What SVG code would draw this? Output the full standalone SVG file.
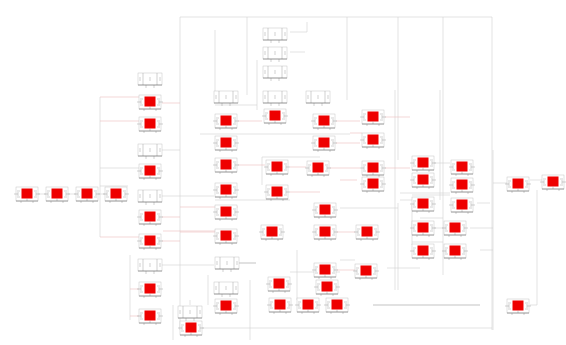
<svg xmlns="http://www.w3.org/2000/svg" xmlns:xlink="http://www.w3.org/1999/xlink" width="566" height="345" viewBox="0 0 566 345">
<style>
.f{fill:#fff;stroke:#c4c4c4;stroke-width:.5}
.r{fill:#ee0000}
.t{stroke:#888;stroke-width:.4;fill:none}
.b{stroke:#555;stroke-width:.5}
.c{fill:none;stroke:#d2d2d2;stroke-width:.6}
.p{fill:none;stroke:#ecbcbc;stroke-width:.6}
.d{fill:none;stroke:#aaa;stroke-width:.7}
</style>
<defs>
<g id="R">
<rect class="f" x="-11" y="-7" width="22" height="14"/>
<rect class="r" x="-5.5" y="-5.5" width="11" height="10"/>
<path class="t" d="M-9,-4V4M9,-4V4M-13,0H-9M9,0H13M-8,-3h1M7,-3h1M-8,3h1M7,3h1M0,4.5V7M-6,7v2M6,7v2"/>
<path class="b" d="M-11,7H11"/>
</g>
<g id="W">
<rect class="f" x="-12" y="-6" width="24" height="12"/>
<path class="t" d="M-7,-6V6M7,-6V6M-10,-2V2M10,-2V2M0,-2V2M-4,6V9M4,6V9"/>
<path class="b" d="M-12,6H12"/>
</g>
</defs>
<rect width="566" height="345" fill="#fff"/>
<g id="connectors">
<path class="c" d="M180,17H492M180,17V330M247,17V95M347,17V100M398,17V160M443,17V275M492,17V330M180,328H492"/>
<path class="c" d="M100,97V237M100,168H139M100,186H128M35,194H46M65,194H76M95,194H105"/>
<path class="p" d="M100,97H139M100,121H139M100,237H139"/>
<path class="c" d="M130,255V320M162,150H180M162,196H214M162,265H214M208,275V305M173,305V340M190,305V300"/>
<path class="p" d="M130,289H139M130,316H139M162,103H180M163,231H217M162,217H180M162,241H180"/>
<path class="c" d="M215,30V100M215,105H257M257,60V110M200,134H350M262,157H320M262,157V185M215,200H290M297,250V300M290,272H340M250,280V340"/>
<path class="p" d="M180,207H238M180,232H215M238,121H262M238,165H265M290,167H306M290,192H320"/>
<path class="d" d="M238,263H256"/>
<path class="c" d="M290,32H307V22M290,52H305M395,90V290M440,90V200M412,205V245M420,218H443M412,242H443M412,195H450M387,268H420M398,203V290M340,260H355M340,208H398"/>
<path class="p" d="M350,133H362M340,180H357M336,121H360M336,143H360M330,168H360M385,117H410M385,168H410M337,232H355M337,270H355"/>
<path class="d" d="M373,305H480"/>
<path class="c" d="M493,150V330M493,183H507M477,203H490M530,180H545M537,190V305H530M470,228H493M480,250H493M400,193H450M400,200H412M434,163H450M434,228H443"/>
</g>
<g id="n1" transform="translate(27,194)"><use href="#R"/></g>
<g id="n2" transform="translate(57,194)"><use href="#R"/></g>
<g id="n3" transform="translate(87,194)"><use href="#R"/></g>
<g id="n4" transform="translate(116,194)"><use href="#R"/></g>
<g id="n5" transform="translate(150,79)"><use href="#W"/></g>
<g id="n6" transform="translate(150,102)"><use href="#R"/></g>
<g id="n7" transform="translate(150,124)"><use href="#R"/></g>
<g id="n8" transform="translate(150,150)"><use href="#W"/></g>
<g id="n9" transform="translate(150,171)"><use href="#R"/></g>
<g id="n10" transform="translate(150,196)"><use href="#W"/></g>
<g id="n11" transform="translate(150,217)"><use href="#R"/></g>
<g id="n12" transform="translate(150,241)"><use href="#R"/></g>
<g id="n13" transform="translate(150,265)"><use href="#W"/></g>
<g id="n14" transform="translate(150,289)"><use href="#R"/></g>
<g id="n15" transform="translate(150,316)"><use href="#R"/></g>
<g id="n16" transform="translate(190,312)"><use href="#W"/></g>
<g id="n17" transform="translate(191,328)"><use href="#R"/></g>
<g id="n18" transform="translate(226,97)"><use href="#W"/></g>
<g id="n19" transform="translate(226,121)"><use href="#R"/></g>
<g id="n20" transform="translate(226,143)"><use href="#R"/></g>
<g id="n21" transform="translate(226,165)"><use href="#R"/></g>
<g id="n22" transform="translate(226,190)"><use href="#R"/></g>
<g id="n23" transform="translate(226,212)"><use href="#R"/></g>
<g id="n24" transform="translate(226,236)"><use href="#R"/></g>
<g id="n25" transform="translate(227,263)"><use href="#W"/></g>
<g id="n26" transform="translate(226,288)"><use href="#W"/></g>
<g id="n27" transform="translate(226,306)"><use href="#R"/></g>
<g id="n28" transform="translate(275,34)"><use href="#W"/></g>
<g id="n29" transform="translate(275,53)"><use href="#W"/></g>
<g id="n30" transform="translate(275,72)"><use href="#W"/></g>
<g id="n31" transform="translate(275,97)"><use href="#W"/></g>
<g id="n32" transform="translate(275,116)"><use href="#R"/></g>
<g id="n33" transform="translate(277,167)"><use href="#R"/></g>
<g id="n34" transform="translate(277,192)"><use href="#R"/></g>
<g id="n35" transform="translate(272,232)"><use href="#R"/></g>
<g id="n36" transform="translate(279,284)"><use href="#R"/></g>
<g id="n37" transform="translate(280,305)"><use href="#R"/></g>
<g id="n38" transform="translate(318,97)"><use href="#W"/></g>
<g id="n39" transform="translate(324,121)"><use href="#R"/></g>
<g id="n40" transform="translate(324,143)"><use href="#R"/></g>
<g id="n41" transform="translate(318,168)"><use href="#R"/></g>
<g id="n42" transform="translate(325,210)"><use href="#R"/></g>
<g id="n43" transform="translate(325,232)"><use href="#R"/></g>
<g id="n44" transform="translate(325,270)"><use href="#R"/></g>
<g id="n45" transform="translate(327,287)"><use href="#R"/></g>
<g id="n46" transform="translate(308,305)"><use href="#R"/></g>
<g id="n47" transform="translate(337,305)"><use href="#R"/></g>
<g id="n48" transform="translate(373,117)"><use href="#R"/></g>
<g id="n49" transform="translate(373,140)"><use href="#R"/></g>
<g id="n50" transform="translate(373,168)"><use href="#R"/></g>
<g id="n51" transform="translate(373,184)"><use href="#R"/></g>
<g id="n52" transform="translate(367,232)"><use href="#R"/></g>
<g id="n53" transform="translate(366,271)"><use href="#R"/></g>
<g id="n54" transform="translate(423,163)"><use href="#R"/></g>
<g id="n55" transform="translate(423,180)"><use href="#R"/></g>
<g id="n56" transform="translate(423,204)"><use href="#R"/></g>
<g id="n57" transform="translate(423,228)"><use href="#R"/></g>
<g id="n58" transform="translate(423,251)"><use href="#R"/></g>
<g id="n59" transform="translate(462,167)"><use href="#R"/></g>
<g id="n60" transform="translate(462,185)"><use href="#R"/></g>
<g id="n61" transform="translate(462,205)"><use href="#R"/></g>
<g id="n62" transform="translate(455,228)"><use href="#R"/></g>
<g id="n63" transform="translate(455,251)"><use href="#R"/></g>
<g id="n64" transform="translate(518,184)"><use href="#R"/></g>
<g id="n65" transform="translate(553,182)"><use href="#R"/></g>
<g id="n66" transform="translate(518,306)"><use href="#R"/></g>
</svg>
